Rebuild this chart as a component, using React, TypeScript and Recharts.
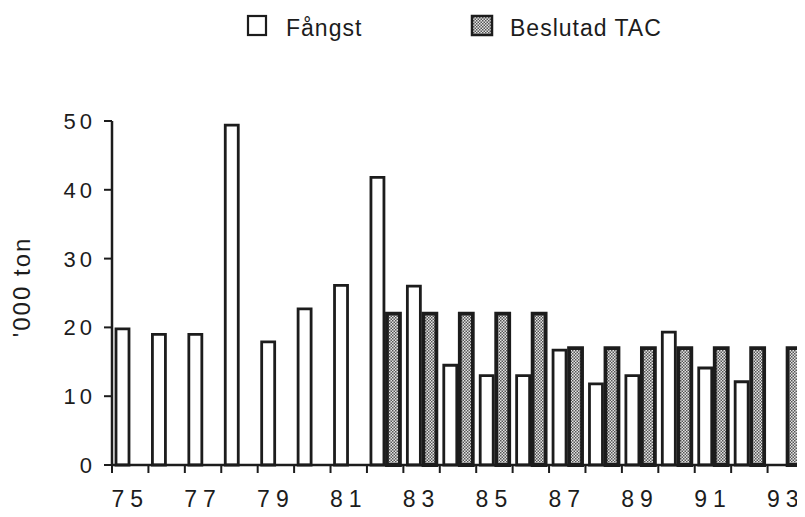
import React from 'react';
import { BarChart, Bar, XAxis, YAxis, Legend } from 'recharts';

const years = ['75', '76', '77', '78', '79', '80', '81', '82', '83', '84', '85', '86', '87', '88', '89', '90', '91', '92', '93'];
const fangst = [19.8, 19.0, 19.0, 49.4, 17.9, 22.7, 26.1, 41.8, 26.0, 14.5, 13.0, 13.0, 16.7, 11.8, 13.0, 19.3, 14.1, 12.1, null];
const tac = [null, null, null, null, null, null, null, 22, 22, 22, 22, 22, 17, 17, 17, 17, 17, 17, 17];
const yTicks = [0, 10, 20, 30, 40, 50];

const data = years.map((year, i) => ({ year, fangst: fangst[i], tac: tac[i] }));

const FONT = '"Liberation Sans", Arial, Helvetica, sans-serif';
const INK = '#1c1c1c';
const W = 797;
const H = 509;
const MARGIN = { top: 113, right: 1, bottom: 12, left: 44 };
const BAND = (W - MARGIN.left - 60 - MARGIN.right) / years.length;

// ticks sit on category borders, labels only every other year
const XTick = ({ x, y, payload, index }: any) => {
  const left = x - BAND / 2;
  return (
    <g>
      <line x1={left} y1={y} x2={left} y2={y + 8} stroke={INK} strokeWidth={2} />
      {index % 2 === 0 && (
        <text x={x} y={y + 42} textAnchor="middle" fontSize={23} letterSpacing={6} fill={INK} fontFamily={FONT}>
          {payload.value}
        </text>
      )}
    </g>
  );
};

const YTick = ({ x, y, payload }: any) => (
  <text x={x - 8} y={y + 8} textAnchor="end" fontSize={22} letterSpacing={4} fill={INK} fontFamily={FONT}>
    {payload.value}
  </text>
);

const YLabel = () => (
  <g transform="translate(22, 279) rotate(-90)">
    <text x={0} y={0} textAnchor="middle" fontSize={24} letterSpacing={2} fill={INK} fontFamily={FONT}>
      '000 ton
    </text>
  </g>
);

const LegendBox = () => (
  <div style={{ position: 'relative', width: W, height: 40, fontFamily: FONT, fontSize: 22, color: INK }}>
    <svg width={W} height={40} style={{ position: 'absolute', left: 0, top: 0 }}>
      <defs>
        <pattern id="dotsLegend" width={3} height={3} patternUnits="userSpaceOnUse">
          <rect width={3} height={3} fill="#e4e4e4" />
          <rect width={1.5} height={1.5} fill="#555" />
          <rect x={1.5} y={1.5} width={1.5} height={1.5} fill="#555" />
        </pattern>
      </defs>
      <rect x={240} y={8} width={18} height={19} fill="#fff" stroke={INK} strokeWidth={2.2} />
      <rect x={464} y={8} width={20} height={19} fill="url(#dotsLegend)" stroke={INK} strokeWidth={2.5} />
      <text x={278} y={28} fontSize={23} letterSpacing={1} fill={INK} fontFamily={FONT}>Fångst</text>
      <text x={502} y={28} fontSize={23} letterSpacing={1} fill={INK} fontFamily={FONT}>Beslutad TAC</text>
    </svg>
  </div>
);

export default function App() {
  return (
    <div style={{ width: W, height: H, fontFamily: FONT }}>
      <BarChart width={W} height={H} data={data} margin={MARGIN} barCategoryGap={4} barGap={3}>
        <defs>
          <pattern id="dots" width={3} height={3} patternUnits="userSpaceOnUse">
            <rect width={3} height={3} fill="#e4e4e4" />
            <rect width={1.5} height={1.5} fill="#555" />
            <rect x={1.5} y={1.5} width={1.5} height={1.5} fill="#555" />
          </pattern>
        </defs>
        <XAxis
          dataKey="year"
          interval={0}
          height={40}
          tickSize={0}
          tickMargin={0}
          tickLine={false}
          axisLine={{ stroke: INK, strokeWidth: 2.5 }}
          tick={<XTick />}
        />
        <YAxis
          width={60}
          domain={[0, 50]}
          ticks={yTicks}
          interval={0}
          tickSize={8}
          tickMargin={0}
          tickLine={{ stroke: INK, strokeWidth: 2 }}
          axisLine={{ stroke: INK, strokeWidth: 2.5 }}
          tick={<YTick />}
          label={<YLabel />}
        />
        <Legend
          layout="vertical"
          align="center"
          verticalAlign="middle"
          wrapperStyle={{ top: 0, left: 0, width: W }}
          content={<LegendBox />}
        />
        <Bar dataKey="fangst" name="Fångst" fill="#fff" stroke={INK} strokeWidth={2.8} isAnimationActive={false} />
        <Bar dataKey="tac" name="Beslutad TAC" fill="url(#dots)" stroke={INK} strokeWidth={3.8} isAnimationActive={false} />
      </BarChart>
    </div>
  );
}
